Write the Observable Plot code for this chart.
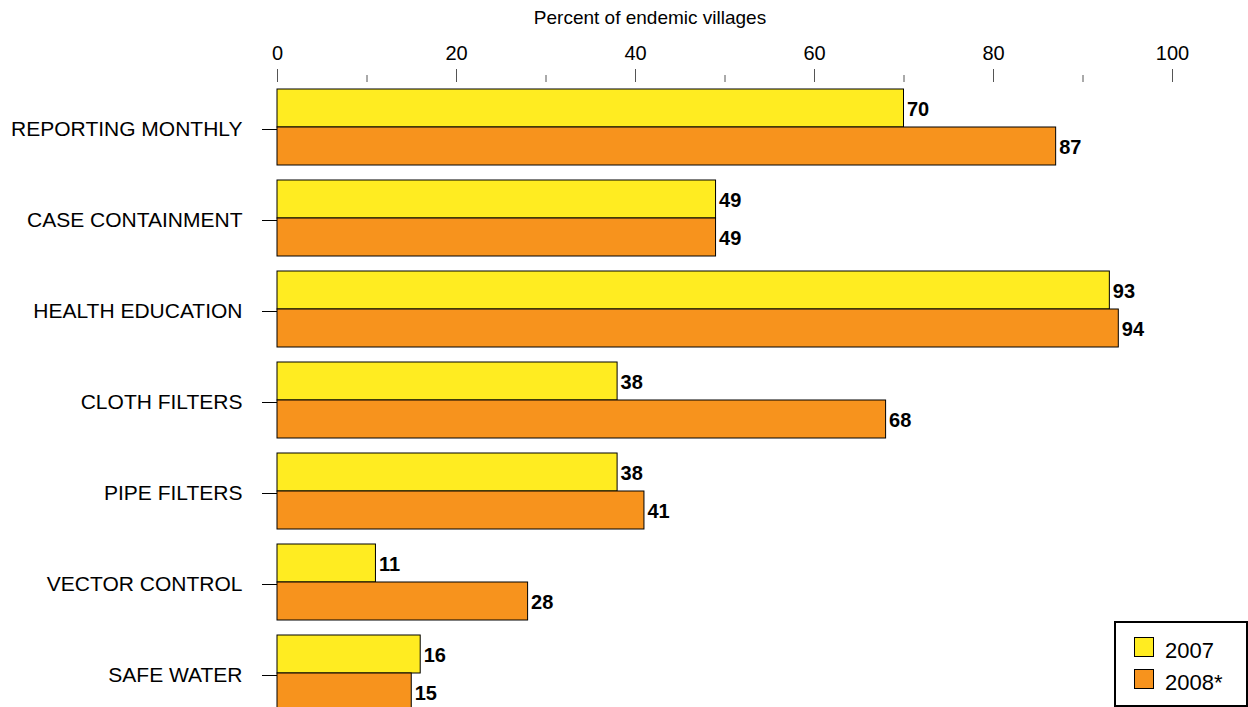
<!DOCTYPE html>
<html><head><meta charset="utf-8">
<script src="https://cdn.jsdelivr.net/npm/d3@7"></script>
<script src="https://cdn.jsdelivr.net/npm/@observablehq/plot@0.6"></script>
<style>
html,body{margin:0;padding:0;background:#fff;overflow:hidden;}
#wrap{position:relative;width:1248px;height:707px;font-family:"Liberation Sans",Arial,sans-serif;color:#000;}
#wrap svg{overflow:hidden;display:block;}
#title{position:absolute;left:450px;width:400px;top:7px;text-align:center;font-size:19px;line-height:22px;}
#legend{position:absolute;left:1114px;top:621px;width:134px;height:86px;box-sizing:border-box;border:2px solid #000;background:#fff;}
.sw{position:absolute;left:18px;width:20px;height:20px;box-sizing:border-box;border:1px solid #000;}
.lt{position:absolute;left:49px;font-size:22px;line-height:22px;white-space:nowrap;}
</style>
</head><body>
<div id="wrap"><div id="title"></div><div id="legend"></div></div>
<script>
const categories = ["REPORTING MONTHLY","CASE CONTAINMENT","HEALTH EDUCATION","CLOTH FILTERS","PIPE FILTERS","VECTOR CONTROL","SAFE WATER"];
const years = ["2007","2008*"];
const values2007 = [70,49,93,38,38,11,16];
const values2008 = [87,49,94,68,41,28,15];
const majorTicks = [0,20,40,60,80,100];
const minorTicks = [10,30,50,70,90];
const yearColors = ["#FFEC21","#F7931D"];
const axisTitle = "Percent of endemic villages";

const rows = categories.flatMap((c,i)=>[
  {category:c, year:years[0], value:values2007[i]},
  {category:c, year:years[1], value:values2008[i]}
]);
const is07 = d => d.year === years[0];
const is08 = d => d.year === years[1];

const chart = Plot.plot({
  width:1248, height:707,
  marginLeft:277, marginRight:76, marginTop:81, marginBottom:0,
  x:{domain:[0,100]},
  y:{domain:categories, range:[74,726], padding:15/91},
  color:{domain:years, range:yearColors},
  style:{fontFamily:"'Liberation Sans', Arial, sans-serif", fontSize:"20px", color:"#000", background:"#fff"},
  marks:[
    Plot.barX(rows, {filter:is07, x:"value", y:"category", fill:"year", stroke:"#000", strokeWidth:1, insetBottom:38}),
    Plot.barX(rows, {filter:is08, x:"value", y:"category", fill:"year", stroke:"#000", strokeWidth:1, insetTop:38}),
    Plot.text(rows, {filter:is07, x:"value", y:"category", text:d=>String(d.value), dx:3, dy:-18, textAnchor:"start", fontWeight:"bold", fontSize:20, fill:"#000"}),
    Plot.text(rows, {filter:is08, x:"value", y:"category", text:d=>String(d.value), dx:3, dy:20, textAnchor:"start", fontWeight:"bold", fontSize:20, fill:"#000"}),
    Plot.axisX({anchor:"top", ticks:majorTicks, tickSize:13, tickPadding:9, fontSize:20, label:null, stroke:"#555", fill:"#000"}),
    Plot.axisX({anchor:"top", ticks:minorTicks, tickSize:7, tickFormat:()=>"", label:null, stroke:"#555"}),
    Plot.axisY({anchor:"left", tickSize:15, tickPadding:20, fontSize:21, dy:2, label:null, stroke:"#000", fill:"#000"})
  ]
});
const wrap = document.getElementById("wrap");
wrap.insertBefore(chart, wrap.firstChild);
document.getElementById("title").textContent = axisTitle;

const legend = document.getElementById("legend");
years.forEach((y,i)=>{
  const sw = document.createElement("div");
  sw.className = "sw"; sw.style.top = (14 + 32*i) + "px"; sw.style.background = yearColors[i];
  const t = document.createElement("div");
  t.className = "lt"; t.style.top = (17 + 32*i) + "px"; t.textContent = y;
  legend.appendChild(sw); legend.appendChild(t);
});
</script>
</body></html>
